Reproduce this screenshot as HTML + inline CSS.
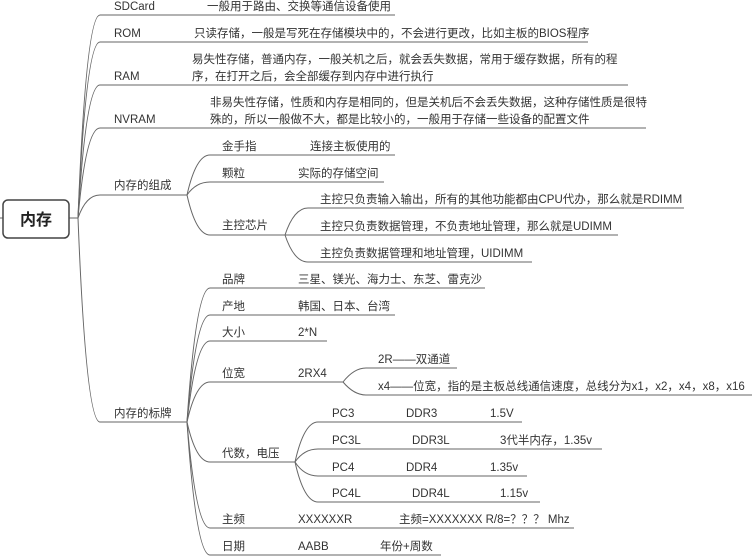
<!DOCTYPE html>
<html><head><meta charset="utf-8"><style>
html,body{margin:0;padding:0;background:#fff;}
svg{display:block;}
text{font-family:"Liberation Sans","Noto Sans CJK SC",sans-serif;font-size:11.5px;fill:#333;}
</style></head><body>
<svg width="754" height="557" viewBox="0 0 754 557" xmlns="http://www.w3.org/2000/svg">
<g fill="none" stroke="#666" stroke-width="1">
<line x1="0" y1="218" x2="3" y2="218"/>
<line x1="69" y1="218" x2="78" y2="218"/>
<!-- level1 -->
<path d="M78 218 Q86 15 100 15 L395 15"/>
<path d="M78 218 Q86 42 100 42 L588 42"/>
<path d="M78 218 Q86 85 100 85 L628 85"/>
<path d="M78 218 Q86 128 100 128 L646 128"/>
<path d="M78 218 Q86 195 100 195 L187 195"/>
<path d="M78 218 Q86 422 100 422 L187 422"/>
<!-- 组成 -->
<path d="M187 195 Q196 155 210 155 L395 155"/>
<path d="M187 195 Q196 182 210 182 L384 182"/>
<path d="M187 195 Q196 235 210 235 L285 235"/>
<path d="M285 235 Q294 208 308 208 L684 208"/>
<path d="M285 235 L618 235"/>
<path d="M285 235 Q294 262 308 262 L532 262"/>
<!-- 标牌 -->
<path d="M187 422 Q196 288 210 288 L485 288"/>
<path d="M187 422 Q196 315 210 315 L395 315"/>
<path d="M187 422 Q196 341 210 341 L327 341"/>
<path d="M187 422 Q196 382 210 382 L343 382"/>
<path d="M187 422 Q196 462 210 462 L295 462"/>
<path d="M187 422 Q196 528 210 528 L574 528"/>
<path d="M187 422 Q196 555 210 555 L441 555"/>
<path d="M343 382 Q354 368 366 368 L457 368"/>
<path d="M343 382 Q354 395 366 395 L752 395"/>
<path d="M295 462 Q304 422 318 422 L522 422"/>
<path d="M295 462 Q304 449 318 449 L602 449"/>
<path d="M295 462 Q304 476 318 476 L527 476"/>
<path d="M295 462 Q304 502 318 502 L540 502"/>
</g>
<rect x="3" y="200" width="66" height="38" rx="5" fill="#fff" stroke="#444" stroke-width="1.5"/>
<text x="36" y="225" text-anchor="middle" style="font-size:16px;font-weight:bold;fill:#222">内存</text>

<text x="114" y="10">SDCard</text><text x="207" y="10">一般用于路由、交换等通信设备使用</text>
<text x="114" y="37">ROM</text><text x="194" y="37">只读存储，一般是写死在存储模块中的，不会进行更改，比如主板的BIOS程序</text>
<text x="114" y="80">RAM</text><text x="192" y="63">易失性存储，普通内存，一般关机之后，就会丢失数据，常用于缓存数据，所有的程</text><text x="192" y="80">序，在打开之后，会全部缓存到内存中进行执行</text>
<text x="114" y="123">NVRAM</text><text x="210" y="106">非易失性存储，性质和内存是相同的，但是关机后不会丢失数据，这种存储性质是很特</text><text x="210" y="123">殊的，所以一般做不大，都是比较小的，一般用于存储一些设备的配置文件</text>
<text x="114" y="189">内存的组成</text>
<text x="222" y="150">金手指</text><text x="310" y="150">连接主板使用的</text>
<text x="222" y="177">颗粒</text><text x="298" y="177">实际的存储空间</text>
<text x="222" y="229">主控芯片</text>
<text x="320" y="203">主控只负责输入输出，所有的其他功能都由CPU代办，那么就是RDIMM</text>
<text x="320" y="230">主控只负责数据管理，不负责地址管理，那么就是UDIMM</text>
<text x="320" y="257">主控负责数据管理和地址管理，UIDIMM</text>
<text x="114" y="417">内存的标牌</text>
<text x="222" y="283">品牌</text><text x="298" y="283">三星、镁光、海力士、东芝、雷克沙</text>
<text x="222" y="310">产地</text><text x="298" y="310">韩国、日本、台湾</text>
<text x="222" y="336">大小</text><text x="298" y="336">2*N</text>
<text x="222" y="377">位宽</text><text x="298" y="377">2RX4</text>
<text x="378" y="363">2R——双通道</text>
<text x="378" y="390">x4——位宽，指的是主板总线通信速度，总线分为x1，x2，x4，x8，x16</text>
<text x="222" y="457">代数，电压</text>
<text x="332" y="417">PC3</text><text x="406" y="417">DDR3</text><text x="490" y="417">1.5V</text>
<text x="332" y="444">PC3L</text><text x="412" y="444">DDR3L</text><text x="500" y="444">3代半内存，1.35v</text>
<text x="332" y="471">PC4</text><text x="406" y="471">DDR4</text><text x="490" y="471">1.35v</text>
<text x="332" y="497">PC4L</text><text x="412" y="497">DDR4L</text><text x="500" y="497">1.15v</text>
<text x="222" y="523">主频</text><text x="298" y="523">XXXXXXR</text><text x="399" y="523">主频=XXXXXXX R/8=？？？ Mhz</text>
<text x="222" y="550">日期</text><text x="298" y="550">AABB</text><text x="380" y="550">年份+周数</text>
</svg>
</body></html>
